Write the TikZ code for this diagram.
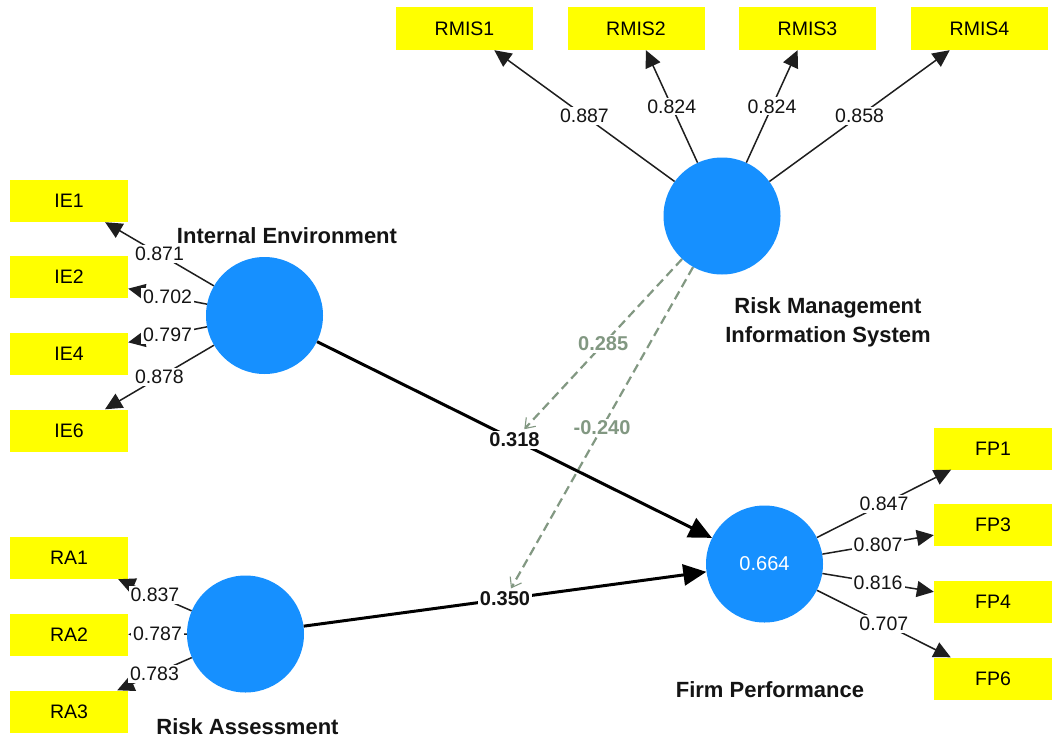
\documentclass[tikz,border=0pt]{standalone}
\usepackage{fontspec}
\setmainfont{Liberation Sans}
\usetikzlibrary{arrows.meta,backgrounds}

\definecolor{lvblue}{RGB}{22,144,255}
\definecolor{indyellow}{RGB}{255,255,0}
\definecolor{modgreen}{RGB}{130,152,130}
\definecolor{loadgray}{RGB}{30,30,30}

\tikzset{
  latent/.style={circle, fill=lvblue, minimum size=117pt, inner sep=0pt},
  indic/.style={rectangle, fill=indyellow, minimum width=118pt, minimum height=42pt,
    inner sep=0pt, text=black, font=\fontsize{19.5}{22}\selectfont},
  indicwide/.style={indic, minimum width=137pt, minimum height=43pt},
  loading/.style={draw=loadgray, line width=1.5pt, -{Triangle[length=17pt,width=16pt]}},
  lval/.style={fill=white, inner sep=2pt, font=\fontsize{19.5}{22}\selectfont, text=black!92},
  pathcoef/.style={draw=black, line width=3pt, -{Triangle[length=23pt,width=21pt]}},
  pval/.style={fill=white, inner sep=2pt, font=\fontsize{20}{22}\selectfont\bfseries, text=black!92},
  moder/.style={draw=modgreen, line width=2.2pt, dash pattern=on 9pt off 5pt,
    -{Straight Barb[length=9pt,width=13pt,line width=1.1pt]}},
  mval/.style={fill=white, inner sep=2pt, text=modgreen, font=\fontsize{20}{22}\selectfont\bfseries},
  lvname/.style={font=\fontsize{22}{29}\selectfont\bfseries, text=black!92, inner sep=0pt, align=center},
}

\begin{document}
\begin{tikzpicture}[x=1pt, y=-1pt]
\useasboundingbox (0,0) rectangle (1052,739);

% latent variables
\node[latent] (IE)   at (264.5,315.5) {};
\node[latent] (RA)   at (245.5,634) {};
\node[latent] (RMIS) at (722,216) {};
\node[latent, text=white, font=\fontsize{20}{22}\selectfont] (FP) at (764.5,564) {0.664};

% construct names
\node[lvname, anchor=base] (nIE) at (287,243) {Internal Environment};
\node[lvname, anchor=base] (nRA) at (247.5,734) {Risk Assessment};
\node[lvname, anchor=base] (nFP) at (770,697) {Firm Performance};
\node[lvname, anchor=north] (nRMIS) at (828,297) {Risk Management\\Information System};

% indicators
\node[indic] (IE1) at (69,201) {IE1};
\node[indic] (IE2) at (69,277) {IE2};
\node[indic] (IE4) at (69,354) {IE4};
\node[indic] (IE6) at (69,430.5) {IE6};
\node[indic] (RA1) at (69,558) {RA1};
\node[indic] (RA2) at (69,634.5) {RA2};
\node[indic] (RA3) at (69,711.5) {RA3};
\node[indicwide] (RMIS1) at (464.5,28.5) {RMIS1};
\node[indicwide] (RMIS2) at (636,28.5) {RMIS2};
\node[indicwide] (RMIS3) at (807.5,28.5) {RMIS3};
\node[indicwide] (RMIS4) at (979.5,28.5) {RMIS4};
\node[indic] (FP1) at (993,448.5) {FP1};
\node[indic] (FP3) at (993,525) {FP3};
\node[indic] (FP4) at (993,601.5) {FP4};
\node[indic] (FP6) at (993,678.5) {FP6};

% outer loadings
\draw[loading] (IE) -- node[lval] {0.871} (IE1);
\draw[loading] (IE) -- node[lval] {0.702} (IE2);
\draw[loading] (IE) -- node[lval] {0.797} (IE4);
\draw[loading] (IE) -- node[lval] {0.878} (IE6);
\draw[loading] (RA) -- node[lval] {0.837} (RA1);
\draw[loading] (RA) -- node[lval] {0.787} (RA2);
\draw[loading] (RA) -- node[lval] {0.783} (RA3);
\draw[loading] (RMIS) -- node[lval] {0.887} (RMIS1);
\draw[loading] (RMIS) -- node[lval] {0.824} (RMIS2);
\draw[loading] (RMIS) -- node[lval] {0.824} (RMIS3);
\draw[loading] (RMIS) -- node[lval] {0.858} (RMIS4);
\draw[loading] (FP) -- node[lval] {0.847} (FP1);
\draw[loading] (FP) -- node[lval] {0.807} (FP3);
\draw[loading] (FP) -- node[lval] {0.816} (FP4);
\draw[loading] (FP) -- node[lval] {0.707} (FP6);

% structural paths
\draw[pathcoef] (IE) -- node[pval] (c318) {0.318} (FP);
\draw[pathcoef] (RA) -- node[pval] (c350) {0.350} (FP);

% moderating effects, kept beneath the structural paths
\begin{pgfonlayer}{background}
  \fill[white] (0,0) rectangle (1052,739);
  \draw[moder] (RMIS) -- node[mval] {0.285} (c318);
  \draw[moder] (RMIS) -- node[mval] {-0.240} (c350);
\end{pgfonlayer}
\end{tikzpicture}
\end{document}
